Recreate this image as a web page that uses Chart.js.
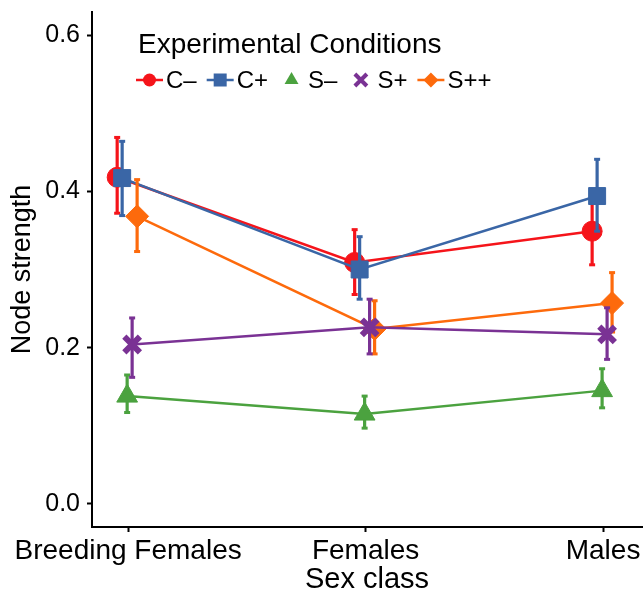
<!DOCTYPE html>
<html>
<head>
<meta charset="utf-8">
<script src="https://cdn.jsdelivr.net/npm/chart.js@4.4.1/dist/chart.umd.min.js"></script>
<style>
  html, body { margin: 0; padding: 0; background: #fff; }
</style>
</head>
<body>
<canvas id="chart" width="643" height="592"></canvas>
<script>
const categories = ["Breeding Females", "Females", "Males"];
const conditions = ["C–", "C+", "S–", "S+", "S++"];

const cMinus = [0.418, 0.309, 0.349];
const cMinusLow = [0.372, 0.268, 0.306];
const cMinusHigh = [0.469, 0.351, 0.392];

const cPlus = [0.417, 0.300, 0.394];
const cPlusLow = [0.369, 0.262, 0.349];
const cPlusHigh = [0.464, 0.342, 0.441];

const sMinus = [0.138, 0.115, 0.145];
const sMinusLow = [0.117, 0.097, 0.123];
const sMinusHigh = [0.165, 0.138, 0.173];

const sPlus = [0.204, 0.226, 0.217];
const sPlusLow = [0.162, 0.192, 0.185];
const sPlusHigh = [0.238, 0.262, 0.251];

const sPlusPlus = [0.368, 0.224, 0.257];
const sPlusPlusLow = [0.323, 0.192, 0.220];
const sPlusPlusHigh = [0.415, 0.260, 0.296];

const yTicks = [0, 0.2, 0.4, 0.6];

const means = [cMinus, cPlus, sMinus, sPlus, sPlusPlus];
const lows = [cMinusLow, cPlusLow, sMinusLow, sPlusLow, sPlusPlusLow];
const highs = [cMinusHigh, cPlusHigh, sMinusHigh, sPlusHigh, sPlusPlusHigh];

const colors = ["#f5141a", "#3a66a6", "#4ba23f", "#7a3294", "#fd6a0c"];
const shapes = ["circle", "rect", "triangle", "crossRot", "rectRot"];
const radii = [10, 12, 12, 11, 11.5];
const drawOrder = [5, 4, 3, 1, 2];
const dodge = 0.021;
const FONT = "'Liberation Sans', Arial, sans-serif";

// error bars drawn just before each series, so that series' markers sit on top
const errorBars = {
    id: "errorBars",
    beforeDatasetDraw(chart, args) {
        const ds = chart.data.datasets[args.index];
        const yScale = chart.scales.y;
        const ctx = chart.ctx;
        ctx.save();
        ctx.strokeStyle = ds.borderColor;
        ctx.fillStyle = ds.borderColor;
        ctx.lineWidth = 3.2;
        args.meta.data.forEach((pt, i) => {
            const top = yScale.getPixelForValue(ds.errHigh[i]);
            const bot = yScale.getPixelForValue(ds.errLow[i]);
            ctx.beginPath();
            ctx.moveTo(pt.x, top);
            ctx.lineTo(pt.x, bot);
            ctx.stroke();
            ctx.fillRect(pt.x - 3, top - 1.5, 6, 3);
            ctx.fillRect(pt.x - 3, bot - 1.5, 6, 3);
        });
        ctx.restore();
    }
};

function drawKey(ctx, shape, x, y, r, color) {
    ctx.fillStyle = color;
    ctx.strokeStyle = color;
    ctx.beginPath();
    if (shape === "circle") {
        ctx.arc(x, y, r, 0, Math.PI * 2);
        ctx.fill();
    } else if (shape === "rect") {
        ctx.fillRect(x - r, y - r, r * 2, r * 2);
    } else if (shape === "triangle") {
        ctx.moveTo(x, y - r);
        ctx.lineTo(x + r * 0.87, y + r * 0.5);
        ctx.lineTo(x - r * 0.87, y + r * 0.5);
        ctx.closePath();
        ctx.fill();
    } else if (shape === "crossRot") {
        ctx.lineWidth = 4;
        ctx.moveTo(x - r, y - r); ctx.lineTo(x + r, y + r);
        ctx.moveTo(x + r, y - r); ctx.lineTo(x - r, y + r);
        ctx.stroke();
    } else if (shape === "rectRot") {
        ctx.moveTo(x, y - r); ctx.lineTo(x + r, y);
        ctx.lineTo(x, y + r); ctx.lineTo(x - r, y);
        ctx.closePath();
        ctx.fill();
    }
}

const legendPlugin = {
    id: "manualLegend",
    afterDraw(chart) {
        const ctx = chart.ctx;
        ctx.save();
        ctx.fillStyle = "#000";
        ctx.font = "28px " + FONT;
        ctx.textBaseline = "alphabetic";
        ctx.fillText("Experimental Conditions", 138, 53);

        ctx.font = "24px " + FONT;
        const keySizes = [6.5, 6.5, 8, 6, 7.5];
        const withLine = [true, true, false, false, true];
        let x = 136;
        const y = 80;
        conditions.forEach((name, k) => {
            if (withLine[k]) {
                ctx.strokeStyle = colors[k];
                ctx.lineWidth = 2.5;
                ctx.beginPath();
                ctx.moveTo(x, y); ctx.lineTo(x + 27, y);
                ctx.stroke();
            }
            drawKey(ctx, shapes[k], x + 13.5, y, keySizes[k], colors[k]);
            ctx.fillStyle = "#000";
            ctx.textBaseline = "middle";
            ctx.fillText(name, x + 30, y + 1);
            x += 30 + ctx.measureText(name).width + 10;
        });
        ctx.restore();
    }
};

new Chart(document.getElementById("chart"), {
    type: "line",
    data: {
        datasets: conditions.map((name, k) => ({
            label: name,
            data: means[k].map((v, i) => ({ x: i + 1 + (k - 2) * dodge - 0.004, y: v })),
            errLow: lows[k],
            errHigh: highs[k],
            borderColor: colors[k],
            backgroundColor: colors[k],
            borderWidth: 2.5,
            pointStyle: shapes[k],
            pointRadius: radii[k],
            pointBorderWidth: k === 3 ? 6 : 1,
            order: drawOrder[k]
        }))
    },
    options: {
        responsive: false,
        animation: false,
        layout: { autoPadding: false, padding: { top: 12, right: 1, bottom: 0, left: 0 } },
        plugins: {
            legend: { display: false },
            tooltip: { enabled: false }
        },
        scales: {
            x: {
                type: "linear",
                min: 0.848,
                max: 3.164,
                afterBuildTicks: axis => { axis.ticks = categories.map((c, i) => ({ value: i + 1 })); },
                afterFit: scale => {
                    scale.height = 65;
                    scale.paddingLeft = 0;
                    scale.paddingRight = 0;
                },
                ticks: {
                    callback: v => categories[Math.round(v) - 1],
                    color: "#000",
                    font: { family: FONT, size: 28 },
                    padding: 2,
                    maxRotation: 0,
                    autoSkip: false
                },
                grid: { drawOnChartArea: false, drawTicks: true, tickLength: 5, tickColor: "#000", tickWidth: 2 },
                border: { display: true, color: "#000", width: 2 },
                title: {
                    display: true,
                    text: "Sex class",
                    color: "#000",
                    font: { family: FONT, size: 29, lineHeight: 1 },
                    padding: { top: 0, bottom: -2 }
                }
            },
            y: {
                min: -0.0295,
                max: 0.6295,
                afterBuildTicks: axis => { axis.ticks = yTicks.map(v => ({ value: v })); },
                afterFit: scale => {
                    scale.width = 92;
                    scale.paddingTop = 0;
                    scale.paddingBottom = 0;
                },
                ticks: {
                    callback: v => v.toFixed(1),
                    color: "#000",
                    font: { family: FONT, size: 25 },
                    padding: 7
                },
                grid: { drawOnChartArea: false, drawTicks: true, tickLength: 5, tickColor: "#000", tickWidth: 2 },
                border: { display: true, color: "#000", width: 2 },
                title: {
                    display: true,
                    text: "Node strength",
                    color: "#000",
                    font: { family: FONT, size: 27, lineHeight: 1.2 },
                    padding: { top: 6, bottom: 0 }
                }
            }
        }
    },
    plugins: [errorBars, legendPlugin]
});
</script>
</body>
</html>
